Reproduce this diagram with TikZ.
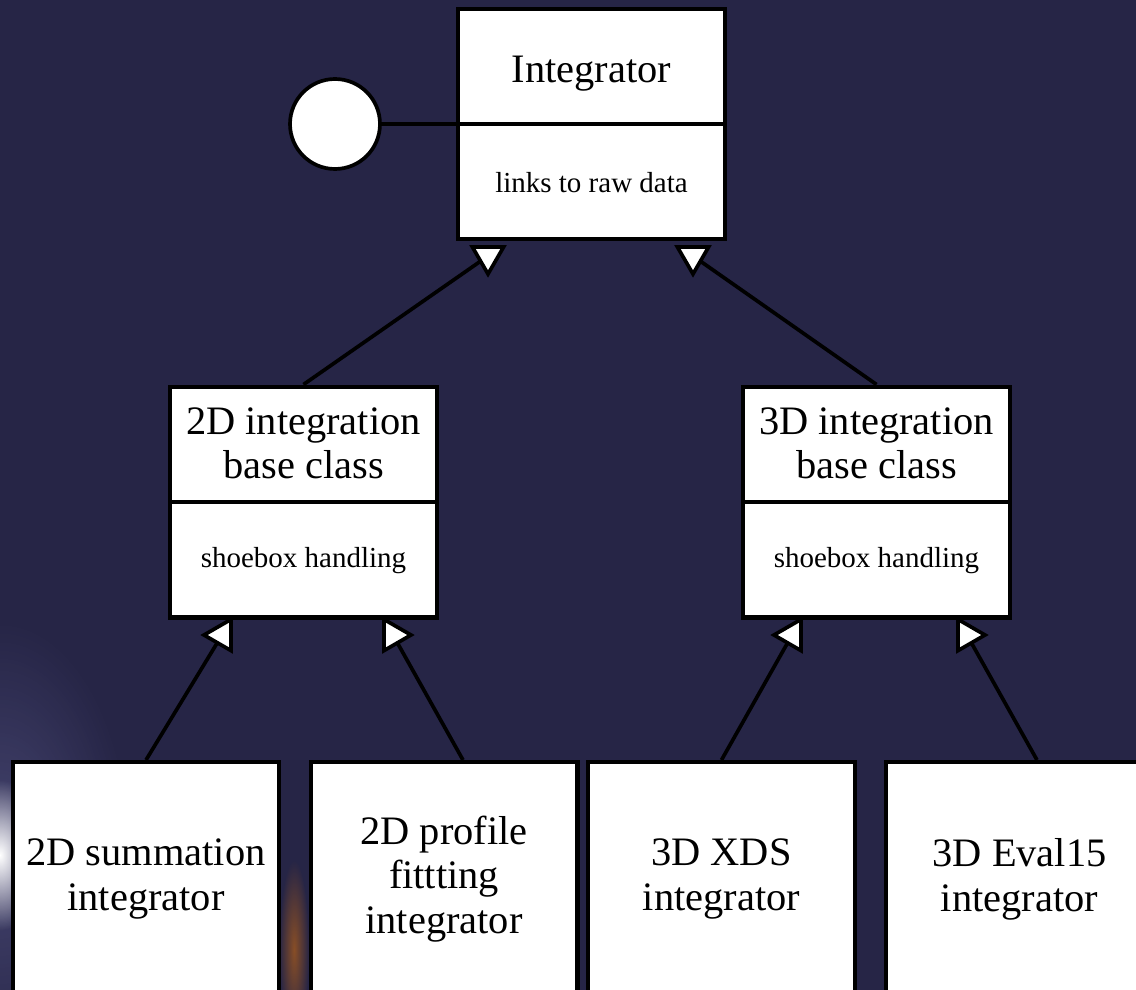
\documentclass[tikz,border=0pt]{standalone}
\usepackage{fontspec}
\setmainfont{Liberation Serif}
\usepackage{tikz}
\usetikzlibrary{shapes, positioning, calc, fadings}

\definecolor{navy}{RGB}{38,37,70}
\tikzfading[name=glow, inner color=transparent!0, outer color=transparent!100]

\begin{document}
\begin{tikzpicture}[
            x=0.02cm, y=-0.02cm,
            box/.style={rectangle, draw=black, line width=2.3pt, fill=white, minimum width=5.34cm, align=center, inner sep=0pt},
            classbox/.style={box, minimum height=4.62cm},
            leafbox/.style={box, minimum height=4.76cm},
            title/.style={font=\fontsize{23}{25.5}\selectfont, align=center, inner sep=0pt},
            attr/.style={font=\fontsize{16.5}{20}\selectfont, inner sep=0pt},
            link/.style={line width=2.1pt, draw=black},
            tip/.style={regular polygon, regular polygon sides=3, minimum size=0.72cm, inner sep=0pt, draw=black, line width=2.1pt, fill=white}
        ]

        \fill[navy] (0,0) rectangle (1136,990);
        \useasboundingbox (0,0) rectangle (1136,990);

        % light in the lower left corner
        \fill[blue!30!white, opacity=.22, path fading=glow] (0,850) ellipse (2.6cm and 4.6cm);
        \fill[white, path fading=glow] (0,855) ellipse (0.9cm and 1.5cm);
        \fill[orange, opacity=.45, path fading=glow] (294,950) ellipse (0.3cm and 1.8cm);

        % base class
        \node[classbox] (int) at (591.5,124) {};
        \draw[link] (int.west) -- (int.east);
        \node[title] (int-name) at ($(int.north)!.5!(int.center) + (0,8)$) {Integrator};
        \node[attr] (int-attr) at ($(int.south)!.5!(int.center)$) {links to raw data};

        \node[circle, draw=black, line width=2.1pt, fill=white, minimum size=1.8cm] (iface) at (335,124) {};
        \draw[link] (iface.east) -- (int.west);

        % 2D and 3D base classes
        \node[classbox] (base2d) at (303.5,502) {};
        \draw[link] (base2d.west) -- (base2d.east);
        \node[title] (base2d-name) at ($(base2d.north)!.5!(base2d.center)$) {2D integration\\base class};
        \node[attr] (base2d-attr) at ($(base2d.south)!.5!(base2d.center)$) {shoebox handling};

        \node[classbox] (base3d) at (876.5,502) {};
        \draw[link] (base3d.west) -- (base3d.east);
        \node[title] (base3d-name) at ($(base3d.north)!.5!(base3d.center)$) {3D integration\\base class};
        \node[attr] (base3d-attr) at ($(base3d.south)!.5!(base3d.center)$) {shoebox handling};

        % concrete integrators
        \node[leafbox] (sum) at (146,881) {};
        \node[title] (sum-txt) at (146,879) {2D summation\\integrator};
        \node[leafbox] (prof) at (444,881) {};
        \node[title] (prof-txt) at (444,879) {2D profile\\fittting\\integrator};
        \node[leafbox] (xds) at (721.5,881) {};
        \node[title] (xds-txt) at (721.5,879) {3D XDS\\integrator};
        \node[leafbox] (eval) at (1019.5,881) {};
        \node[title] (eval-txt) at (1019.5,879) {3D Eval15\\integrator};

        % inheritance
        \coordinate (tip-int-l) at (488,256);
        \coordinate (tip-int-r) at (693,256);
        \coordinate (tip-2d-l) at (222,635);
        \coordinate (tip-2d-r) at (393,635);
        \coordinate (tip-3d-l) at (792,635);
        \coordinate (tip-3d-r) at (967,635);

        \draw[link] (base2d.north) -- (tip-int-l);
        \draw[link] (base3d.north) -- (tip-int-r);
        \draw[link] (sum.north) -- (tip-2d-l);
        \draw[link] ([xshift=0.38cm]prof.north) -- (tip-2d-r);
        \draw[link] (xds.north) -- (tip-3d-l);
        \draw[link] ([xshift=0.35cm]eval.north) -- (tip-3d-r);

        \node[tip, shape border rotate=180] (head-a) at (tip-int-l) {};
        \node[tip, shape border rotate=180] (head-b) at (tip-int-r) {};
        \node[tip, shape border rotate=90] (head-c) at (tip-2d-l) {};
        \node[tip, shape border rotate=-90] (head-d) at (tip-2d-r) {};
        \node[tip, shape border rotate=90] (head-e) at (tip-3d-l) {};
        \node[tip, shape border rotate=-90] (head-f) at (tip-3d-r) {};

        \end{tikzpicture}
\end{document}
